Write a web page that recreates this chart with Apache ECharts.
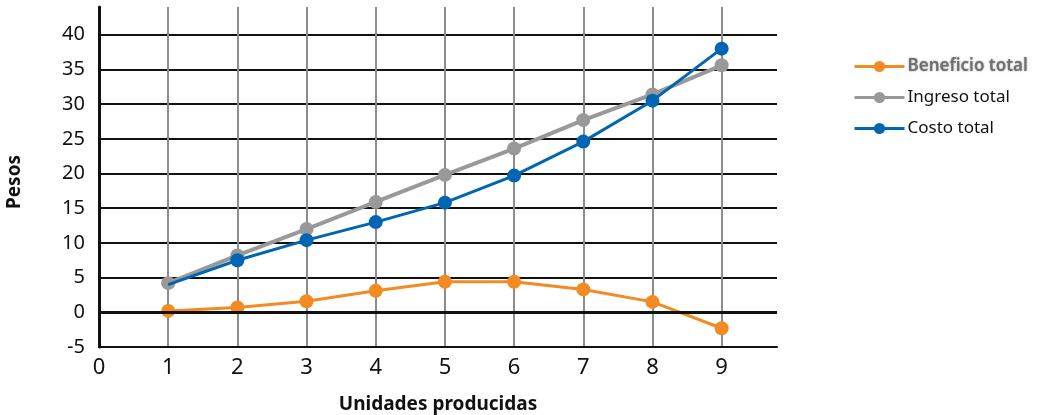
<!DOCTYPE html>
<html>
<head>
<meta charset="utf-8">
<script src="https://cdn.jsdelivr.net/npm/echarts@6/dist/echarts.min.js"></script>
<style>
  html, body { margin: 0; padding: 0; background: #fff; }
  #chart { width: 1054px; height: 415px; }
</style>
</head>
<body>
<div id="chart"></div>
<script>
// Units produced (x) and the three totals in pesos
const unidades = [1, 2, 3, 4, 5, 6, 7, 8, 9];
const beneficioTotal = [0.2, 0.7, 1.6, 3.1, 4.4, 4.4, 3.3, 1.5, -2.3];
const ingresoTotal = [4.2, 8.2, 12.0, 15.9, 19.8, 23.6, 27.7, 31.4, 35.6];
const costoTotal = [4.0, 7.5, 10.4, 13.0, 15.8, 19.7, 24.6, 30.5, 38.0];
const seriesNames = ['Beneficio total', 'Ingreso total', 'Costo total'];

const FONT = '"Noto Sans", sans-serif';
const pairs = (ys) => unidades.map((x, i) => [x, ys[i]]);

const chart = echarts.init(document.getElementById('chart'), null, { renderer: 'canvas' });

chart.setOption({
  animation: false,
  grid: { left: 99, right: 277, top: 7, bottom: 68, containLabel: false, outerBoundsMode: 'none' },
  legend: {
    orient: 'vertical',
    left: 853,
    top: 58,
    padding: 0,
    itemWidth: 50,
    itemHeight: 14,
    itemGap: 14,
    lineStyle: { width: 3 },
    textStyle: { fontFamily: FONT, fontSize: 17, color: '#111', padding: [0, 0, 0, -2] },
    data: [
      {
        name: seriesNames[0],
        textStyle: {
          color: '#707070', fontWeight: 600,
          textShadowColor: 'rgba(100,100,100,0.7)', textShadowBlur: 2
        }
      },
      { name: seriesNames[1] },
      { name: seriesNames[2] }
    ]
  },
  xAxis: {
    type: 'value',
    min: 0,
    max: 9.8,
    interval: 1,
    name: 'Unidades producidas',
    nameLocation: 'middle',
    nameGap: 48,
    nameTextStyle: { fontFamily: FONT, fontSize: 19, fontWeight: 'bold', color: '#111' },
    axisLine: { show: true, onZero: false, lineStyle: { color: '#111', width: 2 } },
    axisTick: { show: false },
    axisLabel: {
      showMaxLabel: false,
      margin: 10,
      fontFamily: FONT, fontSize: 22, color: '#111'
    },
    splitLine: {
      show: true,
      showMinLine: false,
      showMaxLine: false,
      lineStyle: { color: '#8c8c8c', width: 2 }
    }
  },
  yAxis: {
    type: 'value',
    min: -5,
    max: 44,
    interval: 5,
    offset: 2,
    name: 'Pesos',
    nameLocation: 'middle',
    nameGap: 73,
    nameTextStyle: { fontFamily: FONT, fontSize: 19, fontWeight: 'bold', color: '#111', padding: [0, 10, 0, 0] },
    axisLine: { show: true, lineStyle: { color: '#111', width: 3 } },
    axisTick: { show: false },
    axisLabel: {
      showMaxLabel: false,
      margin: 12,
      fontFamily: FONT, fontSize: 20, color: '#111'
    },
    splitLine: {
      show: true,
      showMaxLine: false,
      lineStyle: { color: '#111', width: 2 }
    }
  },
  series: [
    {
      // heavier baseline at zero pesos
      type: 'line',
      data: [],
      z: 1,
      silent: true,
      markLine: {
        silent: true,
        symbol: 'none',
        label: { show: false },
        lineStyle: { color: '#111', width: 3, type: 'solid' },
        data: [{ yAxis: 0 }]
      }
    },
    {
      name: seriesNames[0],
      type: 'line',
      z: 3,
      data: pairs(beneficioTotal),
      symbol: 'circle',
      symbolSize: 14,
      itemStyle: { color: '#f38a22' },
      lineStyle: { color: '#f38a22', width: 3 }
    },
    {
      name: seriesNames[1],
      type: 'line',
      z: 3,
      data: pairs(ingresoTotal),
      symbol: 'circle',
      symbolSize: 14,
      itemStyle: { color: '#999999' },
      lineStyle: { color: '#999999', width: 4 }
    },
    {
      name: seriesNames[2],
      type: 'line',
      z: 4,
      data: pairs(costoTotal).map((p, i) => i === 0 ? { value: p, symbolSize: 0 } : p),
      symbol: 'circle',
      symbolSize: 14,
      itemStyle: { color: '#0066b3' },
      lineStyle: { color: '#0066b3', width: 3 }
    }
  ]
});
</script>
</body>
</html>
